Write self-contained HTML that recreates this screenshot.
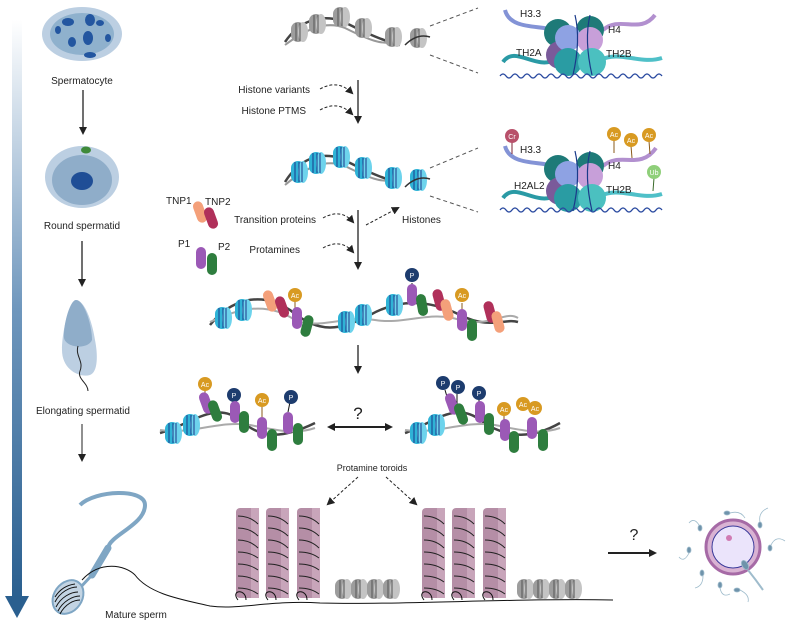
<!DOCTYPE html>
<html><head><meta charset="utf-8"><style>
html,body{margin:0;padding:0;background:#fff}
svg{display:block}
text{font-family:"Liberation Sans",sans-serif;fill:#222}
</style></head><body>
<svg width="797" height="626" viewBox="0 0 797 626" xmlns="http://www.w3.org/2000/svg" font-size="10">
<defs>
<linearGradient id="bar" x1="0" y1="0" x2="0" y2="1"><stop offset="0" stop-color="#fff"/><stop offset="0.5" stop-color="#6f97bd"/><stop offset="1" stop-color="#2a5f8f"/></linearGradient>
<marker id="ah" markerWidth="8" markerHeight="8" refX="6" refY="4" orient="auto-start-reverse" markerUnits="userSpaceOnUse"><path d="M0,0 L8,4 L0,8 Z" fill="#222"/></marker>
<g id="ng"><rect x="-7" y="-10" width="14" height="20" rx="7" fill="#9d9d9d"/><ellipse cx="5" cy="0" rx="5" ry="10" fill="#c4c4c4"/><path d="M-2,-9 v18 M2,-9 v18" stroke="#555" stroke-width="1"/></g>
<g id="nc"><rect x="-7" y="-11" width="14" height="22" rx="7" fill="#2fb3d6"/><ellipse cx="5" cy="0" rx="5" ry="11" fill="#6dd3ec"/><path d="M-3,-10 v20 M1,-10 v20 M4,-10 v20" stroke="#1a3a8a" stroke-width="1"/></g>
<g id="pp"><rect x="-5" y="-11" width="10" height="22" rx="5" fill="#9b59b6"/></g>
<g id="pg"><rect x="-5" y="-11" width="10" height="22" rx="5" fill="#2e7d3e"/></g>
<g id="po"><rect x="-5" y="-11" width="10" height="22" rx="5" fill="#f4a07a"/></g>
<g id="pr"><rect x="-5" y="-11" width="10" height="22" rx="5" fill="#b0305a"/></g>
<g id="tor"><rect x="0" y="0" width="23" height="90" rx="4" fill="#b58ea6"/><rect x="15" y="0" width="8" height="90" fill="#c8a5ba"/><path d="M2,8 q12,0 20,8 M2,20 q12,0 20,8 M2,32 q12,0 20,8 M2,44 q12,0 20,6 M2,56 q12,0 20,6 M2,68 q12,0 20,6 M2,80 q12,0 20,6" stroke="#222" fill="none" stroke-width="1"/></g>
</defs>

<rect x="12" y="20" width="10" height="578" fill="url(#bar)"/>
<path d="M5,596 L29,596 L17,618 Z" fill="#2a5f8f"/>

<ellipse cx="82" cy="34" rx="40" ry="27" fill="#bccfe2"/>
<ellipse cx="82" cy="34" rx="32" ry="21" fill="#8fb1cd"/>
<g fill="#2356a0"><ellipse cx="68" cy="22" rx="6" ry="4"/><ellipse cx="90" cy="20" rx="5" ry="6"/><ellipse cx="100" cy="23" rx="4" ry="3"/><ellipse cx="72" cy="42" rx="4" ry="5"/><ellipse cx="88" cy="38" rx="5" ry="7"/><ellipse cx="108" cy="38" rx="3" ry="4"/><ellipse cx="90" cy="55" rx="6" ry="3"/><ellipse cx="58" cy="30" rx="3" ry="4"/></g>
<text x="82" y="84" text-anchor="middle">Spermatocyte</text>
<line x1="83" y1="90" x2="83" y2="133" stroke="#222" stroke-width="1.3" marker-end="url(#ah)"/>

<ellipse cx="82" cy="177" rx="37" ry="31" fill="#bccfe2"/>
<ellipse cx="82" cy="180" rx="30" ry="25" fill="#8fadc9"/>
<ellipse cx="82" cy="181" rx="11" ry="9" fill="#1f4e96"/>
<ellipse cx="86" cy="150" rx="5" ry="3.5" fill="#3f8a3a"/>
<text x="82" y="229" text-anchor="middle">Round spermatid</text>
<line x1="82" y1="241" x2="82" y2="285" stroke="#222" stroke-width="1.3" marker-end="url(#ah)"/>

<path d="M76,300 C70,300 62,330 62,350 C62,370 80,378 90,375 C98,372 98,355 95,340 C92,320 84,300 76,300 Z" fill="#bccfe2"/>
<path d="M76,300 C70,300 63,325 64,338 C66,348 88,350 92,340 C92,325 84,300 76,300 Z" fill="#8fadc9"/>
<path d="M78,346 c-3,10 6,15 2,25 c-3,8 8,12 8,20" stroke="#222" fill="none" stroke-width="1"/>
<text x="83" y="414" text-anchor="middle">Elongating spermatid</text>
<line x1="82" y1="424" x2="82" y2="460" stroke="#222" stroke-width="1" marker-end="url(#ah)"/>

<path d="M80,505 C95,490 145,488 145,505 C145,525 110,535 108,548" stroke="#7fa6c4" stroke-width="4" fill="none"/>
<path d="M108,548 L92,575" stroke="#7fa6c4" stroke-width="7" stroke-linecap="round"/>
<path d="M92,575 L78,590" stroke="#7fa6c4" stroke-width="3"/>
<ellipse cx="68" cy="597" rx="14" ry="18" transform="rotate(35 68 597)" fill="#c3d4e3" stroke="#7fa6c4" stroke-width="2"/>
<path d="M55,602 c5,-10 15,-15 22,-15 M56,607 c5,-10 15,-15 22,-15 M58,611 c5,-10 15,-15 22,-15 M60,614 c5,-10 14,-14 20,-14 M55,597 c5,-8 12,-12 20,-13" stroke="#111" fill="none" stroke-width="1"/>
<path d="M82,580 C100,560 125,565 135,575 C150,595 185,600 210,606 C240,610 270,600 320,603 C400,605 520,598 613,600" stroke="#111" fill="none" stroke-width="1"/>
<text x="136" y="618" text-anchor="middle">Mature sperm</text>

<path d="M285,42 C300,20 320,15 340,20 C360,30 380,40 400,45" stroke="#444" stroke-width="2.5" fill="none"/>
<path d="M285,45 C305,30 325,20 345,28 C365,38 385,48 400,40" stroke="#999" stroke-width="2" fill="none"/>
<use href="#ng" x="298" y="32"/><use href="#ng" x="316" y="24"/><use href="#ng" x="340" y="17"/><use href="#ng" x="362" y="28"/><use href="#ng" x="392" y="37"/>
<line x1="358" y1="80" x2="358" y2="122" stroke="#222" stroke-width="1.3" marker-end="url(#ah)"/>
<text x="310" y="93" text-anchor="end">Histone variants</text>
<text x="306" y="114" text-anchor="end">Histone PTMS</text>
<path d="M320,89 q18,-10 32,4" stroke="#222" stroke-dasharray="3,2" fill="none" marker-end="url(#ah)"/>
<path d="M320,110 q18,-10 32,4" stroke="#222" stroke-dasharray="3,2" fill="none" marker-end="url(#ah)"/>

<path d="M285,182 C300,158 320,152 340,158 C360,168 380,178 400,183" stroke="#444" stroke-width="2.5" fill="none"/>
<path d="M285,185 C305,168 325,158 345,166 C365,176 385,186 400,178" stroke="#999" stroke-width="2" fill="none"/>
<use href="#nc" x="298" y="172"/><use href="#nc" x="316" y="163"/><use href="#nc" x="340" y="157"/><use href="#nc" x="362" y="168"/><use href="#nc" x="392" y="178"/>
<line x1="358" y1="210" x2="358" y2="268" stroke="#222" stroke-width="1.3" marker-end="url(#ah)"/>
<text x="316" y="223" text-anchor="end">Transition proteins</text>
<text x="300" y="253" text-anchor="end">Protamines</text>
<path d="M323,218 q18,-10 30,4" stroke="#222" stroke-dasharray="3,2" fill="none" marker-end="url(#ah)"/>
<path d="M323,248 q18,-10 30,4" stroke="#222" stroke-dasharray="3,2" fill="none" marker-end="url(#ah)"/>
<path d="M366,225 L398,208" stroke="#222" stroke-dasharray="3,2" fill="none" marker-end="url(#ah)"/>
<text x="402" y="223">Histones</text>
<text x="166" y="204">TNP1</text><text x="205" y="205">TNP2</text>
<use href="#po" x="200" y="212" transform="rotate(-20 200 212)"/><use href="#pr" x="211" y="218" transform="rotate(-20 211 218)"/>
<text x="178" y="247">P1</text><text x="218" y="250">P2</text>
<use href="#pp" x="201" y="258"/><use href="#pg" x="212" y="264"/>

<path d="M210,325 C230,300 260,290 290,310 C320,335 340,330 370,315 C400,298 430,300 460,315 C490,330 505,318 518,322" stroke="#444" stroke-width="2.5" fill="none"/>
<path d="M210,322 C235,310 265,300 295,320 C320,330 345,315 375,320 C405,325 430,310 460,320 C490,328 505,310 518,318" stroke="#aaa" stroke-width="2" fill="none"/>
<use href="#nc" x="222" y="318"/><use href="#nc" x="242" y="310"/><use href="#nc" x="345" y="322"/><use href="#nc" x="362" y="315"/><use href="#nc" x="393" y="305"/>
<use href="#po" x="270" y="301" transform="rotate(-20 270 301)"/><use href="#pr" x="282" y="307" transform="rotate(-20 282 307)"/>
<line x1="295" y1="300" x2="295" y2="313" stroke="#8a5a1a"/><circle cx="295" cy="295" r="7" fill="#d89a22"/><text x="295" y="298" font-size="7" fill="#fff" style="fill:#fff" text-anchor="middle">Ac</text>
<use href="#pp" x="297" y="318"/><use href="#pg" x="307" y="326" transform="rotate(15 307 326)"/>
<line x1="412" y1="283" x2="412" y2="295" stroke="#111"/><circle cx="412" cy="275" r="7" fill="#1d3c6e"/><text x="412" y="278" font-size="7" style="fill:#fff" text-anchor="middle">P</text>
<use href="#pp" x="412" y="295"/><use href="#pg" x="422" y="305" transform="rotate(-10 422 305)"/>
<use href="#pr" x="439" y="300" transform="rotate(-15 439 300)"/><use href="#po" x="447" y="310" transform="rotate(-15 447 310)"/>
<line x1="462" y1="303" x2="462" y2="315" stroke="#8a5a1a"/><circle cx="462" cy="295" r="7" fill="#d89a22"/><text x="462" y="298" font-size="7" style="fill:#fff" text-anchor="middle">Ac</text>
<use href="#pp" x="462" y="320"/><use href="#pg" x="472" y="330"/>
<use href="#pr" x="490" y="312" transform="rotate(-15 490 312)"/><use href="#po" x="498" y="322" transform="rotate(-15 498 322)"/>
<line x1="358" y1="345" x2="358" y2="372" stroke="#222" stroke-width="1.3" marker-end="url(#ah)"/>

<path d="M160,433 C190,425 215,400 240,420 C260,438 280,440 315,423" stroke="#444" stroke-width="2.5" fill="none"/>
<path d="M160,430 C190,435 220,420 250,425 C275,430 295,435 315,428" stroke="#aaa" stroke-width="2" fill="none"/>
<use href="#nc" x="172" y="433"/><use href="#nc" x="190" y="425"/>
<line x1="205" y1="390" x2="205" y2="403" stroke="#8a5a1a"/><circle cx="205" cy="384" r="7" fill="#d89a22"/><text x="205" y="387" font-size="7" style="fill:#fff" text-anchor="middle">Ac</text>
<use href="#pp" x="206" y="403" transform="rotate(-20 206 403)"/><use href="#pg" x="215" y="411" transform="rotate(-20 215 411)"/>
<line x1="234" y1="402" x2="234" y2="412" stroke="#111"/><circle cx="234" cy="395" r="7" fill="#1d3c6e"/><text x="234" y="398" font-size="7" style="fill:#fff" text-anchor="middle">P</text>
<use href="#pp" x="235" y="412"/><use href="#pg" x="244" y="422"/>
<line x1="262" y1="407" x2="262" y2="420" stroke="#8a5a1a"/><circle cx="262" cy="400" r="7" fill="#d89a22"/><text x="262" y="403" font-size="7" style="fill:#fff" text-anchor="middle">Ac</text>
<use href="#pp" x="262" y="428"/><use href="#pg" x="272" y="440"/>
<line x1="290" y1="402" x2="288" y2="412" stroke="#111"/><circle cx="291" cy="397" r="7" fill="#1d3c6e"/><text x="291" y="400" font-size="7" style="fill:#fff" text-anchor="middle">P</text>
<use href="#pp" x="288" y="423"/><use href="#pg" x="298" y="434"/>
<line x1="329" y1="427" x2="391" y2="427" stroke="#222" stroke-width="2" marker-end="url(#ah)" marker-start="url(#ah)"/>
<text x="358" y="419" text-anchor="middle" font-size="17">?</text>

<path d="M405,433 C430,425 455,400 480,420 C505,438 530,440 560,423" stroke="#444" stroke-width="2.5" fill="none"/>
<path d="M405,430 C435,435 465,420 495,425 C520,430 540,435 560,428" stroke="#aaa" stroke-width="2" fill="none"/>
<use href="#nc" x="417" y="433"/><use href="#nc" x="435" y="425"/>
<line x1="445" y1="390" x2="448" y2="400" stroke="#111"/><circle cx="443" cy="383" r="7" fill="#1d3c6e"/><text x="443" y="386" font-size="7" style="fill:#fff" text-anchor="middle">P</text>
<line x1="457" y1="394" x2="457" y2="404" stroke="#111"/><circle cx="458" cy="387" r="7" fill="#1d3c6e"/><text x="458" y="390" font-size="7" style="fill:#fff" text-anchor="middle">P</text>
<use href="#pp" x="452" y="404" transform="rotate(-20 452 404)"/><use href="#pg" x="461" y="414" transform="rotate(-20 461 414)"/>
<line x1="479" y1="400" x2="479" y2="410" stroke="#111"/><circle cx="479" cy="393" r="7" fill="#1d3c6e"/><text x="479" y="396" font-size="7" style="fill:#fff" text-anchor="middle">P</text>
<use href="#pp" x="480" y="412"/><use href="#pg" x="489" y="424"/>
<line x1="504" y1="415" x2="504" y2="428" stroke="#8a5a1a"/><circle cx="504" cy="409" r="7" fill="#d89a22"/><text x="504" y="412" font-size="7" style="fill:#fff" text-anchor="middle">Ac</text>
<use href="#pp" x="505" y="430"/><use href="#pg" x="514" y="442"/>
<circle cx="523" cy="404" r="7" fill="#d89a22"/><text x="523" y="407" font-size="7" style="fill:#fff" text-anchor="middle">Ac</text>
<circle cx="535" cy="408" r="7" fill="#d89a22"/><text x="535" y="411" font-size="7" style="fill:#fff" text-anchor="middle">Ac</text>
<use href="#pp" x="532" y="428"/><use href="#pg" x="543" y="440"/>

<text x="372" y="471" text-anchor="middle" font-size="9">Protamine toroids</text>
<path d="M358,477 L328,504" stroke="#222" stroke-dasharray="3,2" marker-end="url(#ah)"/>
<path d="M386,477 L416,504" stroke="#222" stroke-dasharray="3,2" marker-end="url(#ah)"/>
<use href="#tor" x="236" y="508"/><use href="#tor" x="266" y="508"/><use href="#tor" x="297" y="508"/>
<use href="#tor" x="422" y="508"/><use href="#tor" x="452" y="508"/><use href="#tor" x="483" y="508"/>
<g transform="translate(0,589)"><use href="#ng" x="342"/><use href="#ng" x="358"/><use href="#ng" x="374"/><use href="#ng" x="390"/>
<use href="#ng" x="524"/><use href="#ng" x="540"/><use href="#ng" x="556"/><use href="#ng" x="572"/></g>
<path d="M238,600 c-8,-10 8,-12 8,0 M268,600 c-8,-10 8,-12 8,0 M299,600 c-8,-10 8,-12 8,0 M424,600 c-8,-10 8,-12 8,0 M454,600 c-8,-10 8,-12 8,0 M485,600 c-8,-10 8,-12 8,0" stroke="#111" fill="none"/>

<line x1="608" y1="553" x2="655" y2="553" stroke="#222" stroke-width="2" marker-end="url(#ah)"/>
<text x="634" y="540" text-anchor="middle" font-size="16">?</text>

<circle cx="733" cy="547" r="27" fill="#d9b3d3" stroke="#a66aa6" stroke-width="3"/>
<circle cx="733" cy="547" r="21" fill="#ebe4fb" stroke="#3a3a9a" stroke-width="1"/>
<circle cx="729" cy="538" r="3" fill="#d07bb3"/>
<g fill="#6f93ab" stroke="#9fbccc" stroke-width="0.8">
<ellipse cx="727" cy="513" rx="3" ry="2"/><path d="M730,513 q10,-3 15,5" fill="none"/>
<ellipse cx="760" cy="525" rx="2" ry="3"/><path d="M760,522 q-2,-10 8,-14" fill="none"/>
<ellipse cx="770" cy="548" rx="2" ry="3"/><path d="M771,545 q5,-10 14,-4" fill="none"/>
<ellipse cx="700" cy="528" rx="2" ry="3"/><path d="M699,525 q-5,-8 -10,-2" fill="none"/>
<ellipse cx="689" cy="550" rx="2" ry="3"/><path d="M689,553 q-5,10 -10,4" fill="none"/>
<ellipse cx="702" cy="573" rx="2" ry="3"/><path d="M703,576 q0,10 -8,12" fill="none"/>
<ellipse cx="720" cy="585" rx="2" ry="3"/><path d="M720,588 q2,10 10,6" fill="none"/>
<ellipse cx="737" cy="590" rx="3" ry="2"/><path d="M740,590 q10,5 8,12" fill="none"/>
<ellipse cx="745" cy="565" rx="3" ry="5" transform="rotate(-30 745 565)"/><path d="M748,570 q8,10 15,20" fill="none" stroke-width="2"/>
</g>

<use href="#ng" x="417" y="38"/>
<path d="M405,45 q12,-12 25,-8" stroke="#333" fill="none" stroke-width="1.5"/>
<path d="M430,26 L478,8 M430,55 L478,73" stroke="#555" stroke-dasharray="4,3"/>
<use href="#nc" x="417" y="180"/>
<path d="M405,187 q12,-12 25,-8" stroke="#333" fill="none" stroke-width="1.5"/>
<path d="M430,168 L478,148 M430,196 L478,212" stroke="#555" stroke-dasharray="4,3"/>

<g>
<path d="M505,10 C510,30 540,25 553,30" stroke="#8393d6" stroke-width="4" fill="none"/>
<path d="M603,30 C620,15 640,35 655,15" stroke="#b290cf" stroke-width="4" fill="none"/>
<path d="M503,62 C515,45 535,70 555,60" stroke="#2a9aa5" stroke-width="4" fill="none"/>
<path d="M600,60 C620,50 640,65 662,58" stroke="#4fc0c8" stroke-width="4" fill="none"/>
<circle cx="558" cy="33" r="14" fill="#1e7a78"/><circle cx="590" cy="30" r="14" fill="#1e7a78"/>
<circle cx="560" cy="55" r="14" fill="#7a5a9a"/>
<circle cx="568" cy="38" r="13" fill="#8ea2e3"/><circle cx="590" cy="40" r="13" fill="#c79fd9"/>
<circle cx="568" cy="62" r="14" fill="#2a9ca3"/><circle cx="592" cy="62" r="14" fill="#4bc0c0"/>
<path d="M575,15 q6,25 -2,60 M590,15 q-6,25 2,60" stroke="#1a3a8a" fill="none" stroke-width="1.2"/>
<path d="M500,76 q3,-4 6,0 t6,0 t6,0 t6,0 t6,0 t6,0 t6,0 t6,0 t6,0 t6,0 t6,0 t6,0 t6,0 t6,0 t6,0 t6,0 t6,0 t6,0 t6,0 t6,0 t6,0 t6,0 t6,0 t6,0 t6,0 t6,0 t6,0" stroke="#2a4aa0" fill="none" stroke-width="1.3"/>
</g>
<text x="520" y="17">H3.3</text><text x="608" y="33">H4</text><text x="516" y="56">TH2A</text><text x="606" y="57">TH2B</text>

<g transform="translate(0,136)">
<path d="M505,10 C510,30 540,25 553,30" stroke="#8393d6" stroke-width="4" fill="none"/>
<path d="M603,30 C620,15 640,35 656,12" stroke="#b290cf" stroke-width="4" fill="none"/>
<path d="M503,62 C515,45 535,70 555,60" stroke="#2a9aa5" stroke-width="4" fill="none"/>
<path d="M600,60 C620,50 640,65 662,58" stroke="#4fc0c8" stroke-width="4" fill="none"/>
<circle cx="558" cy="33" r="14" fill="#1e7a78"/><circle cx="590" cy="30" r="14" fill="#1e7a78"/>
<circle cx="560" cy="55" r="14" fill="#7a5a9a"/>
<circle cx="568" cy="38" r="13" fill="#8ea2e3"/><circle cx="590" cy="40" r="13" fill="#c79fd9"/>
<circle cx="568" cy="62" r="14" fill="#2a9ca3"/><circle cx="592" cy="62" r="14" fill="#4bc0c0"/>
<path d="M575,15 q6,25 -2,60 M590,15 q-6,25 2,60" stroke="#1a3a8a" fill="none" stroke-width="1.2"/>
<path d="M500,74 q3,-4 6,0 t6,0 t6,0 t6,0 t6,0 t6,0 t6,0 t6,0 t6,0 t6,0 t6,0 t6,0 t6,0 t6,0 t6,0 t6,0 t6,0 t6,0 t6,0 t6,0 t6,0 t6,0 t6,0 t6,0 t6,0 t6,0 t6,0" stroke="#2a4aa0" fill="none" stroke-width="1.3"/>
</g>
<line x1="512" y1="142" x2="512" y2="154" stroke="#7a2030"/><circle cx="512" cy="136" r="7" fill="#b8506a"/><text x="512" y="139" font-size="7" style="fill:#fff" text-anchor="middle">Cr</text>
<line x1="614" y1="140" x2="614" y2="153" stroke="#8a5a1a"/><circle cx="614" cy="134" r="7" fill="#d89a22"/><text x="614" y="137" font-size="7" style="fill:#fff" text-anchor="middle">Ac</text>
<line x1="631" y1="146" x2="632" y2="158" stroke="#8a5a1a"/><circle cx="631" cy="140" r="7" fill="#d89a22"/><text x="631" y="143" font-size="7" style="fill:#fff" text-anchor="middle">Ac</text>
<line x1="649" y1="141" x2="650" y2="154" stroke="#8a5a1a"/><circle cx="649" cy="135" r="7" fill="#d89a22"/><text x="649" y="138" font-size="7" style="fill:#fff" text-anchor="middle">Ac</text>
<line x1="654" y1="178" x2="653" y2="191" stroke="#3a6a2a"/><circle cx="654" cy="172" r="7" fill="#8fcf7a"/><text x="654" y="175" font-size="7" style="fill:#fff" text-anchor="middle">Ub</text>
<text x="520" y="153">H3.3</text><text x="608" y="169">H4</text><text x="514" y="189">H2AL2</text><text x="606" y="193">TH2B</text>
</svg>
</body></html>
